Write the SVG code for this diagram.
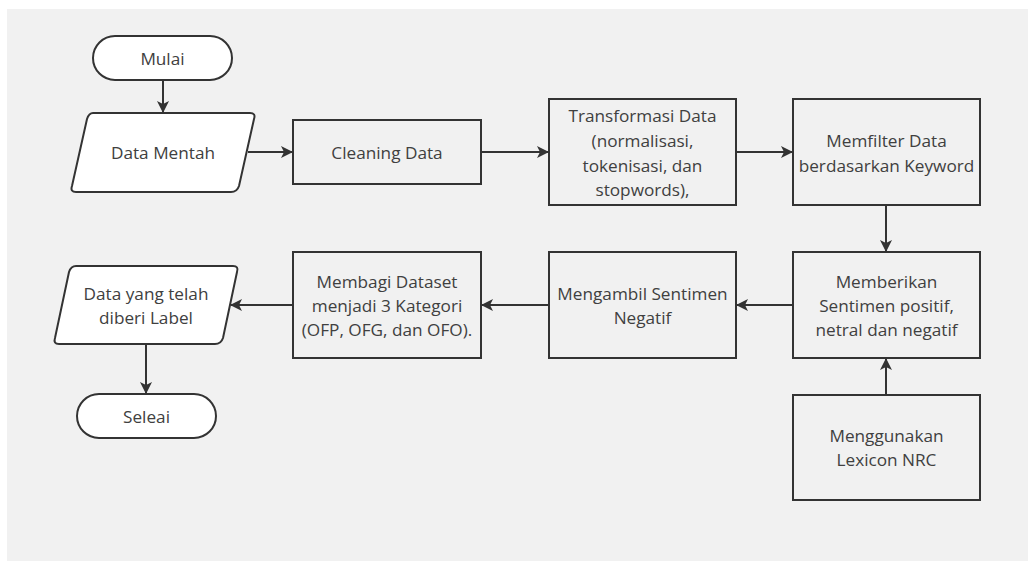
<svg xmlns="http://www.w3.org/2000/svg" width="1028" height="561" viewBox="0 0 1028 561">
  <style>
    .shape { fill: #ffffff; stroke: #333333; stroke-width: 2; }
    .box { fill: #f1f1f1; stroke: #333333; stroke-width: 2; }
    .label { font-family: "Open Sans", "Noto Sans", sans-serif; font-size: 17.2px; fill: #404040; text-anchor: middle; dominant-baseline: central; }
    .edge { fill: none; stroke: #333333; stroke-width: 2; marker-end: url(#arrow); }
  </style>
  <defs>
    <marker id="arrow" viewBox="0 0 12 12" refX="11" refY="6" markerWidth="12" markerHeight="12" markerUnits="userSpaceOnUse" orient="auto">
      <path d="M0,0 L12,6 L0,12 L3,6 Z" fill="#333333"/>
    </marker>
  </defs>

  <rect x="0" y="0" width="1028" height="561" fill="#ffffff"/>
  <rect x="7" y="9" width="1021" height="552" fill="#f1f1f1"/>

  <g id="connectors">
    <line class="edge" x1="163" y1="80" x2="163" y2="112"/>
    <line class="edge" x1="248" y1="152" x2="292" y2="152"/>
    <line class="edge" x1="481" y1="152" x2="548" y2="152"/>
    <line class="edge" x1="736" y1="152" x2="792" y2="152"/>
    <line class="edge" x1="886" y1="205" x2="886" y2="251"/>
    <line class="edge" x1="886" y1="395" x2="886" y2="359"/>
    <line class="edge" x1="793" y1="305" x2="737" y2="305"/>
    <line class="edge" x1="549" y1="305" x2="482" y2="305"/>
    <line class="edge" x1="293" y1="305" x2="231" y2="305"/>
    <line class="edge" x1="146" y1="344" x2="146" y2="393"/>
  </g>

  <g id="mulai">
    <rect class="shape" x="93" y="36" width="139" height="44" rx="22"/>
    <text class="label" x="162.5" y="58">Mulai</text>
  </g>

  <g id="data-mentah">
    <path class="shape" d="M93,113 L250,113 Q256,113 254,119 L239,186 Q237,192 231,192 L76,192 Q70,192 72,186 L87,119 Q89,113 93,113 Z"/>
    <text class="label" x="163" y="152">Data Mentah</text>
  </g>

  <g id="cleaning-data">
    <rect class="box" x="293" y="120" width="188" height="64"/>
    <text class="label" x="387" y="152">Cleaning Data</text>
  </g>

  <g id="transformasi-data">
    <rect class="box" x="549" y="99" width="187" height="106"/>
    <text class="label" x="642.5" y="115">Transformasi Data</text>
    <text class="label" x="642.5" y="140">(normalisasi,</text>
    <text class="label" x="642.5" y="165">tokenisasi, dan</text>
    <text class="label" x="642.5" y="189">stopwords),</text>
  </g>

  <g id="memfilter-data">
    <rect class="box" x="793" y="99" width="187" height="106"/>
    <text class="label" x="886.5" y="140">Memfilter Data</text>
    <text class="label" x="886.5" y="165">berdasarkan Keyword</text>
  </g>

  <g id="memberikan-sentimen">
    <rect class="box" x="793" y="252" width="187" height="106"/>
    <text class="label" x="886.5" y="281">Memberikan</text>
    <text class="label" x="886.5" y="305">Sentimen positif,</text>
    <text class="label" x="886.5" y="329">netral dan negatif</text>
  </g>

  <g id="lexicon-nrc">
    <rect class="box" x="793" y="395" width="187" height="105"/>
    <text class="label" x="886.5" y="435">Menggunakan</text>
    <text class="label" x="886.5" y="459">Lexicon NRC</text>
  </g>

  <g id="mengambil-sentimen">
    <rect class="box" x="549" y="252" width="187" height="106"/>
    <text class="label" x="642.5" y="293">Mengambil Sentimen</text>
    <text class="label" x="642.5" y="317">Negatif</text>
  </g>

  <g id="membagi-dataset">
    <rect class="box" x="293" y="252" width="188" height="106"/>
    <text class="label" x="387" y="281">Membagi Dataset</text>
    <text class="label" x="387" y="305">menjadi 3 Kategori</text>
    <text class="label" x="387" y="329">(OFP, OFG, dan OFO).</text>
  </g>

  <g id="data-berlabel">
    <path class="shape" d="M76,266 L233,266 Q239,266 237,272 L223,338 Q221,344 215,344 L59,344 Q53,344 55,338 L69,272 Q71,266 76,266 Z"/>
    <text class="label" x="146" y="293">Data yang telah</text>
    <text class="label" x="146" y="317">diberi Label</text>
  </g>

  <g id="seleai">
    <rect class="shape" x="77" y="394" width="139" height="44" rx="22"/>
    <text class="label" x="146.5" y="416">Seleai</text>
  </g>
</svg>
